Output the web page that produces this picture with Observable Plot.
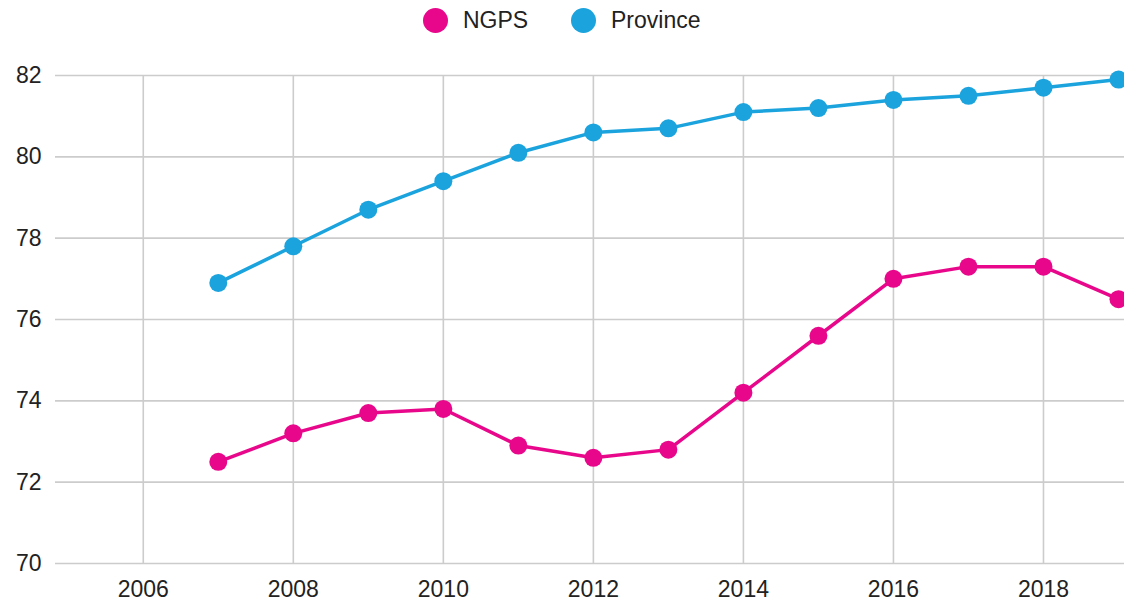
<!DOCTYPE html>
<html>
<head>
<meta charset="utf-8">
<script src="https://cdn.jsdelivr.net/npm/d3@7"></script>
<script src="https://cdn.jsdelivr.net/npm/@observablehq/plot@0.6"></script>
<style>
  html, body { margin: 0; padding: 0; background: #fff; overflow: hidden; }
  body { width: 1124px; height: 603px; font-family: "Liberation Sans", Arial, sans-serif; }
  #legend { position: relative; height: 42px; font-size: 23px; color: #222; }
  .item { position: absolute; top: 8px; display: flex; align-items: center; height: 25px; }
  .dot { width: 25px; height: 25px; border-radius: 50%; margin-right: 15px; }
  svg { display: block; }
</style>
</head>
<body>
<div id="legend"></div>
<div id="chart"></div>
<script>
const years = [2007, 2008, 2009, 2010, 2011, 2012, 2013, 2014, 2015, 2016, 2017, 2018, 2019];
const ngps = [72.5, 73.2, 73.7, 73.8, 72.9, 72.6, 72.8, 74.2, 75.6, 77.0, 77.3, 77.3, 76.5];
const province = [76.9, 77.8, 78.7, 79.4, 80.1, 80.6, 80.7, 81.1, 81.2, 81.4, 81.5, 81.7, 81.9];
const seriesNames = ["NGPS", "Province"];
const seriesColors = ["#e8078b", "#1ba3de"];
const xTicks = [2006, 2008, 2010, 2012, 2014, 2016, 2018];
const yTicks = [70, 72, 74, 76, 78, 80, 82];

const data = [];
years.forEach((y, i) => {
  data.push({year: y, value: ngps[i], series: "NGPS"});
  data.push({year: y, value: province[i], series: "Province"});
});

const legend = document.getElementById("legend");
const legendLeft = [423, 571];
seriesNames.forEach((n, i) => {
  const it = document.createElement("div");
  it.className = "item";
  it.style.left = legendLeft[i] + "px";
  it.innerHTML = `<span class="dot" style="background:${seriesColors[i]}"></span><span>${n}</span>`;
  legend.appendChild(it);
});

const chart = Plot.plot({
  width: 1124,
  height: 561,
  marginLeft: 55,
  marginRight: 0,
  marginTop: 33,
  marginBottom: 40,
  style: {fontFamily: "'Liberation Sans', Arial, sans-serif", fontSize: "23px", color: "#222", background: "#fff", overflow: "hidden"},
  x: {domain: [2004.83, 2019.08], ticks: xTicks, tickFormat: d => String(d), tickSize: 0, tickPadding: 17, label: null},
  y: {domain: [70, 82], ticks: yTicks, tickSize: 0, tickPadding: 14, label: null},
  color: {domain: seriesNames, range: seriesColors},
  marks: [
    Plot.ruleY(yTicks, {stroke: "#cccccc", strokeWidth: 1.6}),
    Plot.ruleX(xTicks, {y1: 70, y2: 82, stroke: "#cccccc", strokeWidth: 1.6}),
    Plot.line(data, {x: "year", y: "value", z: "series", stroke: "series", strokeWidth: 3.5}),
    Plot.dot(data, {x: "year", y: "value", fill: "series", r: 9}),
    Plot.axisX({ticks: xTicks, tickFormat: d => String(d), tickSize: 0, tickPadding: 17, fontSize: 23}),
    Plot.axisY({ticks: yTicks, tickSize: 0, tickPadding: 14, fontSize: 23})
  ]
});
document.getElementById("chart").appendChild(chart);
</script>
</body>
</html>
